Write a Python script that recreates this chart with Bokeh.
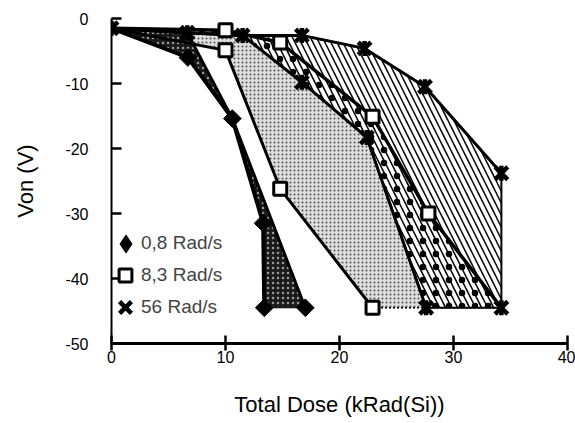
import numpy as np
from bokeh.plotting import figure
from bokeh.models import Range1d, FixedTicker, Legend, LegendItem
from bokeh.embed import file_html
from bokeh.resources import INLINE

FONT = "Liberation Sans"

# ---- axes ----
x_ticks = [0, 10, 20, 30, 40]
x_tick_labels = ["0", "10", "20", "30", "40"]
y_ticks = [0, -10, -20, -30, -40, -50]
y_tick_labels = ["0", "-10", "-20", "-30", "-40", "-50"]

# ---- 0,8 Rad/s band (Total dose kRad(Si), Von V) ----
r08_left_x = [0, 6.7, 10.6, 13.3, 13.4]
r08_left_y = [-1.5, -6.0, -15.4, -31.5, -44.5]
r08_right_x = [0, 6.65, 10.6, 17.0]
r08_right_y = [-1.5, -2.2, -15.4, -44.5]
r08_pts_x = [6.7, 10.6, 13.3, 13.4, 17.0]
r08_pts_y = [-6.0, -15.4, -31.5, -44.5, -44.5]

# ---- 8,3 Rad/s band ----
r83_left_x = [0, 10.0, 14.8, 22.9]
r83_left_y = [-1.5, -4.9, -26.2, -44.5]
r83_right_x = [0, 10.0, 14.8, 22.9, 27.8, 34.2]
r83_right_y = [-1.5, -1.8, -3.7, -15.1, -30.0, -44.5]
r83_pts_x = [10.0, 10.0, 14.8, 14.8, 22.9, 27.8, 22.9]
r83_pts_y = [-1.8, -4.9, -3.7, -26.2, -15.1, -30.0, -44.5]

# ---- 56 Rad/s band ----
r56_left_x = [0, 6.65, 11.5, 16.7, 22.4, 27.6]
r56_left_y = [-1.5, -2.2, -2.6, -9.8, -18.3, -44.5]
r56_right_x = [0, 6.65, 11.5, 16.7, 22.2, 27.5, 34.2, 34.2]
r56_right_y = [-1.5, -2.2, -2.6, -2.6, -4.6, -10.5, -23.8, -44.5]
r56_pts_x = [0, 6.65, 11.5, 16.7, 22.2, 27.5, 34.2, 16.7, 22.4, 27.6, 34.2]
r56_pts_y = [-1.5, -2.2, -2.6, -2.6, -4.6, -10.5, -23.8, -9.8, -18.3, -44.5, -44.5]

labels = ["0,8 Rad/s", "8,3 Rad/s", "56 Rad/s"]


def band(lx, ly, rx, ry):
    return list(lx) + list(rx)[::-1], list(ly) + list(ry)[::-1]


def overlap(lx, ly, rx, ry, n=400):
    # region between curve l (left) and curve r (right), both monotonic in y
    ly_a, lx_a = np.array(ly)[::-1], np.array(lx)[::-1]
    ry_a, rx_a = np.array(ry)[::-1], np.array(rx)[::-1]
    yy = np.linspace(max(ly_a[0], ry_a[0]), min(ly_a[-1], ry_a[-1]), n)
    xl = np.interp(yy, ly_a, lx_a)
    xr = np.maximum(np.interp(yy, ry_a, rx_a), xl)
    return list(xl) + list(xr[::-1]), list(yy) + list(yy[::-1])


p = figure(width=575, height=423, x_range=Range1d(0, 40), y_range=Range1d(-50, 0),
           output_backend="svg", toolbar_location=None,
           min_border_left=111, min_border_right=8, min_border_top=18, min_border_bottom=80)
p.outline_line_color = None
p.grid.visible = False
p.background_fill_color = "white"

# fills
x83, y83 = band(r83_left_x, r83_left_y, r83_right_x, r83_right_y)
x56, y56 = band(r56_left_x, r56_left_y, r56_right_x, r56_right_y)
x08, y08 = band(r08_left_x, r08_left_y, r08_right_x, r08_right_y)
xov, yov = overlap(r56_left_x, r56_left_y, r83_right_x, r83_right_y)

p.patch(x83, y83, fill_color="#dedede", hatch_pattern=".", hatch_color="#505050",
        hatch_scale=4, hatch_weight=1.5,
        line_color="black", line_width=1.5, line_dash="2 2")
p.patch(x56, y56, fill_color="white", hatch_pattern="\\", hatch_color="black",
        hatch_scale=12, hatch_weight=1.5, line_color="black", line_width=2)
p.patch(xov, yov, fill_alpha=0, hatch_pattern=".", hatch_color="black",
        hatch_scale=13, hatch_weight=1.2, line_alpha=0)
p.patch(x08, y08, fill_color="#1a1a1a", hatch_pattern=".", hatch_color="#9a9a9a",
        hatch_scale=5, hatch_weight=1.5, line_color="black", line_width=1)

# curves
kw = dict(line_color="black", line_join="round", line_cap="round")
p.line(r08_left_x, r08_left_y, line_width=4, **kw)
p.line(r08_right_x, r08_right_y, line_width=3, **kw)
p.line(r83_left_x, r83_left_y, line_width=3, **kw)
p.line(r83_right_x, r83_right_y, line_width=3.5, **kw)
p.line(r56_left_x, r56_left_y, line_width=3, **kw)
p.line(r56_right_x[:-1], r56_right_y[:-1], line_width=3, **kw)

# markers
rd = p.scatter(r08_pts_x, r08_pts_y, marker="square", angle=np.pi / 4, size=12.5,
               fill_color="black", line_color="black")
rs = p.scatter(r83_pts_x, r83_pts_y, marker="square", size=13,
               fill_color="white", line_color="black", line_width=3)
ra = p.scatter(r56_pts_x, r56_pts_y, marker="x", size=18, line_color="black", line_width=4.5)
rb = p.scatter(r56_pts_x, r56_pts_y, marker="dash", angle=np.pi / 2, size=15,
               line_color="black", line_width=4.5)

# legend-only renderers (hidden from the plot area)
rd_leg = p.scatter(r08_pts_x, r08_pts_y, marker="diamond", size=18,
                   fill_color="black", line_color="black", visible=False)
ra_leg = p.scatter(r56_pts_x, r56_pts_y, marker="x", size=18, line_color="black",
                   line_width=4.5, visible=False)
rb_leg = p.scatter(r56_pts_x, r56_pts_y, marker="dash", size=18, line_color="black",
                   line_width=4.5, visible=False)
blank = p.scatter(r08_pts_x, r08_pts_y, marker="dot", size=1,
                  fill_alpha=0, line_alpha=0, visible=False)

leg_style = dict(padding=0, margin=0, label_text_font=FONT, label_text_font_size="19px",
                 background_fill_alpha=0, border_line_color=None, label_standoff=0)
legend_a = Legend(items=[LegendItem(label=" ", renderers=[rd_leg])],
                  location=(-8, 77), glyph_width=45, glyph_height=45, spacing=0,
                  **leg_style)
legend_c = Legend(items=[LegendItem(label=" ", renderers=[ra_leg])],
                  location=(-7, 15), glyph_width=42, glyph_height=42, spacing=0,
                  **leg_style)
legend_b = Legend(items=[LegendItem(label=labels[0], renderers=[blank]),
                         LegendItem(label=labels[1], renderers=[rs]),
                         LegendItem(label=labels[2], renderers=[blank])],
                  location=(-2, 20), glyph_width=32, glyph_height=32, spacing=0,
                  **leg_style)
p.add_layout(legend_a)
p.add_layout(legend_c)
p.add_layout(legend_b)

# axes
p.xaxis.ticker = FixedTicker(ticks=x_ticks)
p.xaxis.major_label_overrides = dict(zip(x_ticks, x_tick_labels))
p.yaxis.ticker = FixedTicker(ticks=y_ticks)
p.yaxis.major_label_overrides = dict(zip(y_ticks, y_tick_labels))
for ax in (p.xaxis, p.yaxis):
    ax.minor_tick_line_color = None
    ax.axis_line_color = "black"
    ax.major_tick_line_color = "black"
    ax.major_label_text_font = FONT
    ax.major_label_text_font_size = "16px"
    ax.major_label_text_color = "black"
    ax.axis_label_text_font = FONT
    ax.axis_label_text_font_size = "22px"
    ax.axis_label_text_font_style = "normal"
    ax.axis_label_text_color = "black"

p.xaxis.axis_label = "Total Dose (kRad(Si))"
p.xaxis.axis_line_width = 3
p.xaxis.major_tick_line_width = 2.5
p.xaxis.major_tick_in = 8
p.xaxis.major_tick_out = 7
p.xaxis.major_label_standoff = 0
p.xaxis.axis_label_standoff = 26

p.yaxis.axis_label = "Von (V)"
p.yaxis.axis_line_width = 2
p.yaxis.major_tick_line_width = 2.5
p.yaxis.major_tick_in = 10
p.yaxis.major_tick_out = 0
p.yaxis.major_label_standoff = 23
p.yaxis.axis_label_standoff = 24

open("out.html", "w").write(file_html(p, INLINE))
